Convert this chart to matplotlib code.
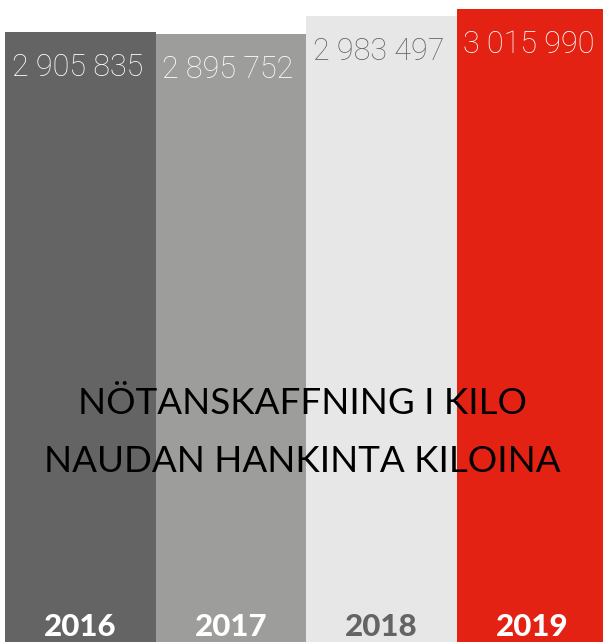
import matplotlib
matplotlib.use("Agg")
import matplotlib.pyplot as plt

years = ["2016", "2017", "2018", "2019"]
values = [2905835, 2895752, 2983497, 3015990]

bar_colors = ["#646464", "#9d9d9b", "#e7e7e7", "#e32213"]
value_colors = ["white", "white", "#646464", "white"]
year_colors = ["white", "white", "#646464", "white"]

title_lines = ["NÖTANSKAFFNING I KILO", "NAUDAN HANKINTA KILOINA"]

fig = plt.figure(figsize=(6.03, 6.42), dpi=100)
# bars run from x=5 px to past the right edge
ax = fig.add_axes([5 / 603, 0, 602 / 603, 1])
x = range(len(years))
ax.bar(x, values, width=1.0, color=bar_colors, linewidth=0)
ax.set_xlim(-0.5, 3.5)
ax.set_ylim(0, 2905835 * 642 / 610)
ax.axis("off")

# value labels a fixed distance under each bar top
for i, v in enumerate(values):
    label = f"{v:,}".replace(",", " ")
    ax.annotate(label, (i, v), xytext=(-2, -25.5), textcoords="offset points",
                ha="center", va="center", fontsize=22, color=value_colors[i],
                family="Roboto", fontweight="light")

# year labels at the bottom
for i, y in enumerate(years):
    ax.annotate(y, (i, 0), xytext=(0, 11), textcoords="offset points",
                ha="center", va="center", fontsize=22.5, color=year_colors[i],
                family="Lato", fontweight="black")

fig.text(0.502, 1 - 403 / 642, title_lines[0], ha="center", va="center",
         fontsize=26.5, family="Lato", color="black")
fig.text(0.502, 1 - 461 / 642, title_lines[1], ha="center", va="center",
         fontsize=26.5, family="Lato", color="black")

fig.savefig("out.png", dpi=100)
